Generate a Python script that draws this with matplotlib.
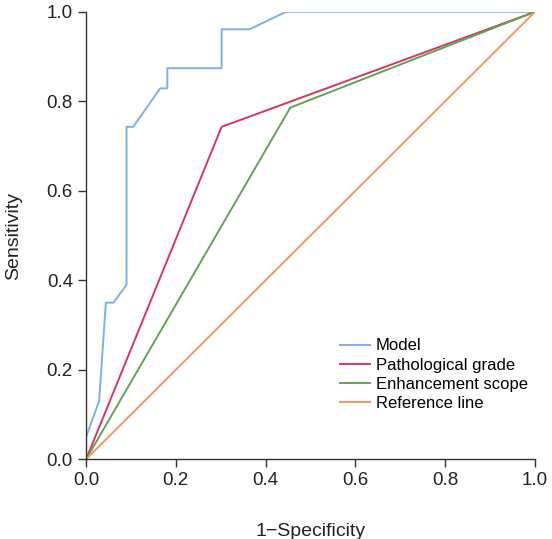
import matplotlib
matplotlib.use("Agg")
import matplotlib.pyplot as plt

plt.rcParams['font.family'] = ['Liberation Sans', 'DejaVu Sans']

# ROC curves
model_fpr = [0.0, 0.0, 0.029, 0.044, 0.061, 0.09, 0.09, 0.105, 0.165, 0.181, 0.181, 0.302, 0.302, 0.364, 0.445, 1.0]
model_tpr = [0.0, 0.05, 0.13, 0.35, 0.35, 0.39, 0.743, 0.743, 0.829, 0.829, 0.874, 0.874, 0.961, 0.961, 1.0, 1.0]

path_fpr = [0.0, 0.302, 1.0]
path_tpr = [0.0, 0.743, 1.0]

enh_fpr = [0.0, 0.455, 1.0]
enh_tpr = [0.0, 0.786, 1.0]

ref_fpr = [0.0, 1.0]
ref_tpr = [0.0, 1.0]

ticks = [0.0, 0.2, 0.4, 0.6, 0.8, 1.0]

fig = plt.figure(figsize=(5.52, 5.39), dpi=100)
ax = fig.add_axes([0.156, 0.148, 0.813, 0.830])

ax.plot(model_fpr, model_tpr, color='#7eb0ea', lw=1.4, label='Model')
ax.plot(path_fpr, path_tpr, color='#d8365f', lw=1.4, label='Pathological grade')
ax.plot(enh_fpr, enh_tpr, color='#5ea653', lw=1.4, label='Enhancement scope')
ax.plot(ref_fpr, ref_tpr, color='#f4975f', lw=1.4, label='Reference line')

ax.set_xlim(0, 1)
ax.set_ylim(0, 1)
ax.set_xticks(ticks)
ax.set_yticks(ticks)
ax.set_xticklabels([f"{t:.1f}" for t in ticks], fontsize=13.5, color='#222222')
ax.set_yticklabels([f"{t:.1f}" for t in ticks], fontsize=13.5, color='#222222')
ax.tick_params(direction='out', length=5.5, width=1, color='#333333', pad=4)

for s in ['top', 'right']:
    ax.spines[s].set_visible(False)
for s in ['left', 'bottom']:
    ax.spines[s].set_color('#333333')
    ax.spines[s].set_linewidth(1)

ax.set_xlabel('1\u2212Specificity', fontsize=14, labelpad=24, color='#222222')
ax.set_ylabel('Sensitivity', fontsize=14, labelpad=18, color='#222222')

ax.legend(loc='lower left', bbox_to_anchor=(0.55, 0.093), frameon=False, fontsize=12,
          handlelength=1.8, handletextpad=0.36, labelspacing=0.25, borderaxespad=0)

fig.savefig('out.png', dpi=100)
